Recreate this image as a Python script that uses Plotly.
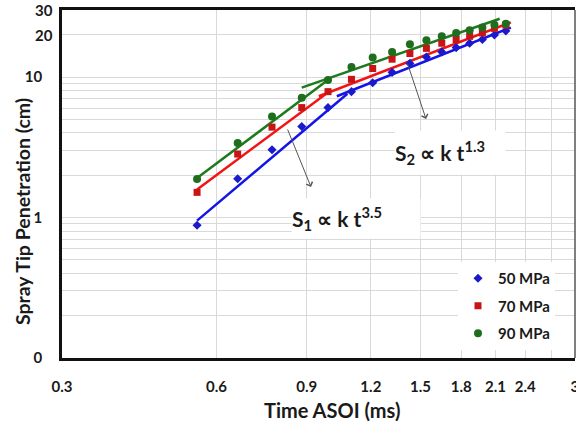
import plotly.graph_objects as go
import math

# ---- data ----
time_ms = [0.55, 0.66, 0.77, 0.88, 0.99, 1.10, 1.21, 1.32, 1.43, 1.54, 1.65, 1.76, 1.87, 1.98, 2.09, 2.20]
pen_50 = [0.88, 1.89, 3.04, 4.44, 6.06, 7.87, 9.1, 10.8, 12.5, 13.9, 15.1, 16.2, 17.4, 18.5, 19.9, 21.3]
pen_70 = [1.51, 2.83, 4.40, 6.06, 7.87, 9.63, 11.5, 13.4, 14.7, 16.0, 17.4, 18.5, 19.5, 20.6, 22.2, 23.4]
pen_90 = [1.88, 3.39, 5.23, 7.13, 9.52, 11.8, 13.8, 15.1, 17.1, 18.3, 19.5, 20.6, 21.5, 22.5, 23.6, 24.0]

# fitted power-law segments (S1 early stage, S2 late stage)
fit50_s1_t = [0.55, 1.08]
fit50_s1_v = [0.95, 7.6]
fit50_s2_t = [1.03, 2.25]
fit50_s2_v = [7.3, 22.5]
fit70_s1_t = [0.55, 1.00]
fit70_s1_v = [1.58, 8.0]
fit70_s2_t = [0.95, 2.25]
fit70_s2_v = [7.3, 24.5]
fit90_s1_t = [0.55, 1.00]
fit90_s1_v = [1.91, 9.8]
fit90_s2_t = [0.88, 2.14]
fit90_s2_v = [8.4, 26.0]

x_tickvals = [0.3, 0.6, 0.9, 1.2, 1.5, 1.8, 2.1, 2.4, 2.7, 3.0]
x_ticktext = ["0.3", "0.6", "0.9", "1.2", "1.5", "1.8", "2.1", "2.4", "", "3"]
y_tickvals = [0.1, 0.2, 0.3, 0.4, 0.5, 0.6, 0.7, 0.8, 0.9,
              1, 2, 3, 4, 5, 6, 7, 8, 9, 10, 20, 30]
y_ticktext = ["0", "", "", "", "", "", "", "", "",
              "1", "", "", "", "", "", "", "", "", "10", "", ""]
y_extra_labels = [20, 30]

series_names = ["50 MPa", "70 MPa", "90 MPa"]
marker_colors = ["#1a1acc", "#c81414", "#1e6e1e"]
line_colors = ["#1414e6", "#f01414", "#1e7a1e"]
symbols = ["diamond", "square", "circle"]
marker_sizes = [7, 7, 8]

FONT = "Lato"
TXT = "#1a1a1a"
fig = go.Figure()

fits = [
    [(fit50_s1_t, fit50_s1_v), (fit50_s2_t, fit50_s2_v)],
    [(fit70_s1_t, fit70_s1_v), (fit70_s2_t, fit70_s2_v)],
    [(fit90_s1_t, fit90_s1_v), (fit90_s2_t, fit90_s2_v)],
]
for i, segs in enumerate(fits):
    for (ft, fv) in segs:
        fig.add_trace(go.Scatter(x=ft, y=fv, mode="lines",
                                 line=dict(color=line_colors[i], width=2.5),
                                 showlegend=False, hoverinfo="skip"))

for i, vals in enumerate([pen_50, pen_70, pen_90]):
    fig.add_trace(go.Scatter(x=time_ms, y=vals, mode="markers", name=series_names[i],
                             legendgroup=series_names[i],
                             marker=dict(symbol=symbols[i], size=marker_sizes[i],
                                         color=marker_colors[i])))

annotations = []
# S1 / S2 labels with white boxes
annotations.append(dict(xref="paper", yref="paper", x=0.573, y=0.401,
                        xanchor="center", yanchor="middle",
                        text="S<sub>1</sub> ∝ k t<sup>3.5</sup>", showarrow=False,
                        width=128, height=39, align="left", bgcolor="white", borderpad=0,
                        font=dict(family=FONT, size=21, color=TXT, weight="bold")))
annotations.append(dict(xref="paper", yref="paper", x=0.756, y=0.5905,
                        xanchor="center", yanchor="middle",
                        text="S<sub>2</sub> ∝ k t<sup>1.3</sup>", showarrow=False,
                        width=110, height=43, align="left", bgcolor="white", borderpad=0,
                        font=dict(family=FONT, size=21, color=TXT, weight="bold")))
# arrows
annotations.append(dict(xref="paper", yref="paper", x=0.4854, y=0.4914, ax=-24, ay=-59,
                        text="", showarrow=True, arrowhead=4, arrowsize=1.3,
                        arrowwidth=1, arrowcolor="#555555"))
annotations.append(dict(xref="paper", yref="paper", x=0.7096, y=0.6868, ax=-19, ay=-57,
                        text="", showarrow=True, arrowhead=4, arrowsize=1.3,
                        arrowwidth=1, arrowcolor="#555555"))
# extra y tick labels (offset as in the reference)
for v in y_extra_labels:
    annotations.append(dict(xref="paper", yref="y", x=0, y=math.log10(v), xshift=-7,
                            xanchor="right", yanchor="middle", text=str(v), showarrow=False,
                            font=dict(family=FONT, size=15, color=TXT, weight="bold")))
# axis titles
annotations.append(dict(xref="paper", yref="paper", x=(332 - 62) / 513, y=(358 - 410) / 348,
                        xanchor="center", yanchor="middle", text="Time ASOI (ms)",
                        showarrow=False,
                        font=dict(family=FONT, size=20, color=TXT, weight="bold")))
annotations.append(dict(xref="paper", yref="paper", x=(22 - 62) / 513, y=(358 - 212) / 348,
                        xanchor="center", yanchor="middle", text="Spray Tip Penetration (cm)",
                        showarrow=False, textangle=-90,
                        font=dict(family=FONT, size=19.5, color=TXT, weight="bold")))

fig.update_layout(
    width=576, height=426,
    margin=dict(l=62, r=1, t=10, b=68, autoexpand=False),
    paper_bgcolor="white", plot_bgcolor="white",
    showlegend=True,
    legend=dict(x=(458 - 62) / 513, y=(358 - 262) / 348, xanchor="left", yanchor="top",
                bgcolor="white", borderwidth=0, tracegroupgap=5,
                font=dict(family=FONT, size=15, color=TXT, weight="bold")),
    annotations=annotations,
    shapes=[dict(type="line", xref="paper", yref="paper", x0=1, x1=1, y0=0, y1=1,
                 line=dict(color="#555555", width=1.5))],
)
fig.update_xaxes(type="log", range=[math.log10(0.3) - 1e-4, math.log10(3.0) + 1e-4],
                 tickmode="array", tickvals=x_tickvals, ticktext=x_ticktext,
                 showgrid=True, gridcolor="#d9d9d9", gridwidth=1,
                 showline=True, linecolor="#111111", linewidth=2.5, mirror=True,
                 ticks="", ticklabelstandoff=13, zeroline=False,
                 ticklabeloverflow="allow", automargin=False,
                 tickfont=dict(family=FONT, size=15, color=TXT, weight="bold"))
fig.update_yaxes(type="log", range=[-1 - 1e-4, math.log10(30) + 1e-4],
                 tickmode="array", tickvals=y_tickvals, ticktext=y_ticktext,
                 showgrid=True, gridcolor="#d9d9d9", gridwidth=1,
                 showline=True, linecolor="#111111", linewidth=2.5,
                 ticks="", ticklabelstandoff=14, zeroline=False, automargin=False,
                 tickfont=dict(family=FONT, size=15, color=TXT, weight="bold"))

fig.write_html("out.html")
